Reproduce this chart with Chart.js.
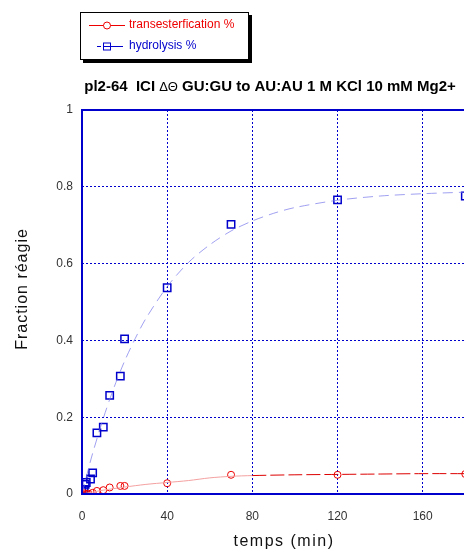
<!DOCTYPE html>
<html>
<head>
<meta charset="utf-8">
<script src="https://cdn.jsdelivr.net/npm/chart.js@4/dist/chart.umd.min.js"></script>
<style>
  html, body { margin: 0; padding: 0; overflow: hidden; background: #fff; }
  #chart { display: block; }
</style>
</head>
<body>
<canvas id="chart" width="472" height="553"></canvas>
<script>
// measured points
const transT = [0, 1, 2, 3, 5, 7, 10, 13, 18, 20, 40, 70, 120, 180];
const transY = [0, 0.002, 0, 0.001, 0.003, 0.008, 0.010, 0.017, 0.021, 0.021, 0.028, 0.050, 0.050, 0.052];

const hydroT = [0, 1, 1.5, 2, 4, 5, 7, 10, 13, 18, 20, 40, 70, 120, 180];
const hydroY = [0.008, 0.012, 0.025, 0.030, 0.039, 0.055, 0.159, 0.174, 0.257, 0.307, 0.404, 0.537, 0.702, 0.766, 0.776];

// fitted curves
const transFitT = [0, 5, 10, 20, 30, 40, 50, 60, 70, 80, 100, 120, 140, 160, 180];
const transFitY = [0, 0.005, 0.010, 0.018, 0.025, 0.030, 0.035, 0.042, 0.046, 0.048, 0.050, 0.051, 0.052, 0.053, 0.053];

const hydroFitT = [0, 2, 5, 10, 15, 20, 25, 30, 40, 50, 60, 70, 80, 90, 100, 120, 140, 160, 180];
const hydroFitY = [0, 0.044, 0.106, 0.197, 0.277, 0.346, 0.405, 0.457, 0.540, 0.603, 0.649, 0.685, 0.711, 0.731, 0.746, 0.765, 0.776, 0.782, 0.786];

const xTicks = [0, 40, 80, 120, 160];
const yTicks = [0, 0.2, 0.4, 0.6, 0.8, 1];

const titleParts = [
    ['pl2-64  ICI ', 'bold 15px Arial, "Liberation Sans", sans-serif'],
    ['\u0394\u0398', '13px Arial, "Liberation Sans", sans-serif'],
    [' GU:GU to AU:AU 1 M KCl 10 mM Mg2+', 'bold 15px Arial, "Liberation Sans", sans-serif']
];

const pts = (xs, ys) => xs.map((x, i) => ({ x: x, y: ys[i] }));
const BLUE = '#0000cc';
const RED = '#ee0000';

const decorations = {
    id: 'decorations',
    afterDraw(chart) {
        const ctx = chart.ctx;
        const a = chart.chartArea;
        ctx.save();
        // frame
        ctx.strokeStyle = BLUE;
        ctx.lineWidth = 2;
        ctx.strokeRect(a.left, a.top, a.right - a.left, a.bottom - a.top);

        // title
        let total = 0;
        titleParts.forEach(p => { ctx.font = p[1]; total += ctx.measureText(p[0]).width; });
        let tx = 270 - total / 2;
        ctx.fillStyle = '#000';
        ctx.textBaseline = 'middle';
        titleParts.forEach(p => {
            ctx.font = p[1];
            ctx.fillText(p[0], tx, 87);
            tx += ctx.measureText(p[0]).width;
        });

        // axis titles
        ctx.font = '16px Arial, "Liberation Sans", sans-serif';
        ctx.fillStyle = '#111';
        ctx.textAlign = 'center';
        ctx.letterSpacing = '1.5px';
        ctx.fillText('temps (min)', 284, 542);
        ctx.letterSpacing = '1px';
        ctx.translate(23, 289);
        ctx.rotate(-Math.PI / 2);
        ctx.fillText('Fraction r\u00e9agie', 0, 0);
        ctx.restore();

        // legend box
        ctx.save();
        ctx.fillStyle = '#000';
        ctx.fillRect(83, 15, 169, 48);
        ctx.fillStyle = '#fff';
        ctx.fillRect(80, 12, 169, 48);
        ctx.strokeStyle = '#000';
        ctx.lineWidth = 1;
        ctx.strokeRect(80.5, 12.5, 168, 47);

        const ds = chart.data.datasets;
        ctx.font = '12px Arial, "Liberation Sans", sans-serif';
        ctx.textBaseline = 'middle';
        // transesterfication
        ctx.strokeStyle = RED;
        ctx.beginPath(); ctx.moveTo(89, 25.5); ctx.lineTo(125, 25.5); ctx.stroke();
        ctx.fillStyle = '#fff';
        ctx.beginPath(); ctx.arc(107, 25.5, 3.5, 0, Math.PI * 2); ctx.fill(); ctx.stroke();
        ctx.fillStyle = RED;
        ctx.fillText(ds[2].label, 129, 25);
        // hydrolysis
        ctx.strokeStyle = BLUE;
        ctx.setLineDash([4, 3]);
        ctx.beginPath(); ctx.moveTo(97, 46.5); ctx.lineTo(103, 46.5); ctx.stroke();
        ctx.setLineDash([]);
        ctx.beginPath(); ctx.moveTo(111, 46.5); ctx.lineTo(123, 46.5); ctx.stroke();
        ctx.fillStyle = '#fff';
        ctx.fillRect(103.5, 43, 7, 7);
        ctx.strokeRect(103.5, 43, 7, 7);
        ctx.beginPath(); ctx.moveTo(103.5, 46.5); ctx.lineTo(110.5, 46.5); ctx.stroke();
        ctx.fillStyle = BLUE;
        ctx.fillText(ds[3].label, 129, 46);
        ctx.restore();
    }
};

const ctx = document.getElementById('chart').getContext('2d');
new Chart(ctx, {
    type: 'scatter',
    data: {
        datasets: [
            {
                label: 'hydrolysis fit',
                data: pts(hydroFitT, hydroFitY),
                showLine: true,
                borderColor: 'rgba(120,120,235,0.7)',
                borderWidth: 1,
                borderDash: [10, 6],
                pointRadius: 0,
                tension: 0.3
            },
            {
                label: 'transesterfication fit',
                data: pts(transFitT, transFitY),
                showLine: true,
                borderWidth: 1,
                pointRadius: 0,
                tension: 0.3,
                segment: {
                    borderColor: c => c.p0.parsed.x >= 80 ? '#dd0000' : '#f4a0a0',
                    borderDash: c => c.p0.parsed.x >= 80 ? [14, 4] : []
                }
            },
            {
                label: 'transesterfication %',
                data: pts(transT, transY),
                showLine: false,
                pointStyle: 'circle',
                pointRadius: 3.5,
                borderColor: RED,
                backgroundColor: 'rgba(0,0,0,0)',
                borderWidth: 1
            },
            {
                label: 'hydrolysis %',
                data: pts(hydroT, hydroY),
                showLine: false,
                pointStyle: 'rect',
                pointRadius: 5.2,
                borderColor: BLUE,
                backgroundColor: 'rgba(0,0,0,0)',
                borderWidth: 1.5
            }
        ]
    },
    options: {
        responsive: false,
        animation: false,
        layout: { padding: { top: 110, left: 0, right: 1, bottom: 0 } },
        plugins: {
            legend: { display: false },
            title: { display: false },
            tooltip: { enabled: false }
        },
        scales: {
            x: {
                type: 'linear',
                min: 0,
                max: 180,
                afterBuildTicks: s => { s.ticks = xTicks.map(v => ({ value: v })); },
                afterFit: s => { s.height = 59; s.paddingLeft = 0; s.paddingRight = 0; },
                grid: { color: BLUE, lineWidth: 1, drawTicks: false },
                border: { display: false, dash: [2, 2] },
                ticks: {
                    color: '#333',
                    padding: 15,
                    callback: v => String(v),
                    font: { family: 'Arial, "Liberation Sans", sans-serif', size: 12 }
                }
            },
            y: {
                type: 'linear',
                min: 0,
                max: 1,
                afterBuildTicks: s => { s.ticks = yTicks.map(v => ({ value: v })); },
                afterFit: s => { s.width = 82; },
                grid: { color: BLUE, lineWidth: 1, drawTicks: false },
                border: { display: false, dash: [2, 2] },
                ticks: {
                    color: '#333',
                    padding: 9,
                    callback: v => String(v),
                    font: { family: 'Arial, "Liberation Sans", sans-serif', size: 12 }
                }
            }
        }
    },
    plugins: [decorations]
});
</script>
</body>
</html>
